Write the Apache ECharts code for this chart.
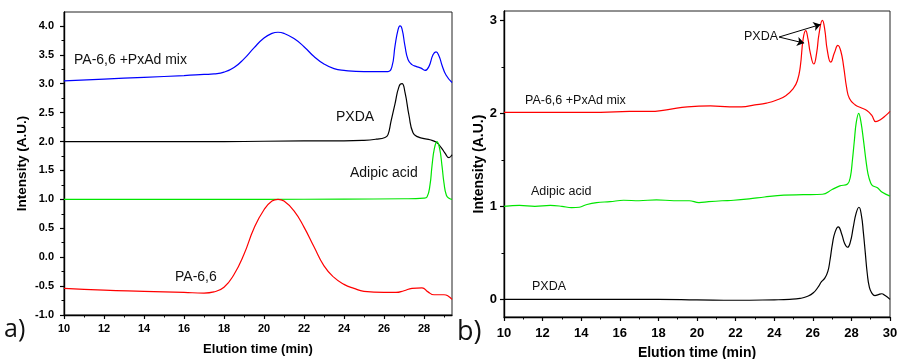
<!DOCTYPE html>
<html>
<head>
<meta charset="utf-8">
<script src="https://cdn.jsdelivr.net/npm/echarts@6/dist/echarts.min.js"></script>
<style>
html,body{margin:0;padding:0;background:#fff;}
#chart{width:898px;height:359px;}
</style>
</head>
<body>
<div id="chart"></div>
<script>
// ---- Panel a) data : [elution time (min), intensity (A.U.)] ----
const mixA = [[10,3.05],[12,3.08],[14,3.11],[16,3.14],[17,3.16],[17.5,3.17],[18,3.2],[18.5,3.28],[19,3.43],[19.5,3.62],[20,3.79],[20.4,3.87],[20.7,3.89],[21,3.87],[21.5,3.78],[22,3.64],[22.5,3.47],[23,3.34],[23.5,3.26],[24,3.23],[25,3.21],[26.2,3.21],[26.4,3.3],[26.55,3.65],[26.7,3.93],[26.8,4.0],[26.9,3.95],[27.05,3.65],[27.2,3.42],[27.4,3.33],[27.6,3.3],[27.85,3.27],[28.05,3.23],[28.25,3.3],[28.45,3.5],[28.6,3.55],[28.75,3.48],[28.9,3.32],[29.1,3.15],[29.4,3.02]];
const pxdaA = [[10,2.0],[14,2.0],[18,2.0],[22,2.01],[24,2.01],[25,2.02],[25.6,2.04],[26.05,2.07],[26.2,2.12],[26.35,2.35],[26.55,2.65],[26.75,2.95],[26.9,3.0],[27.05,2.85],[27.25,2.45],[27.45,2.15],[27.7,2.08],[28.0,2.05],[28.3,2.03],[28.6,1.99],[28.85,1.9],[29.05,1.8],[29.25,1.72],[29.4,1.77]];
const adipA = [[10,1.0],[16,1.0],[20,1.0],[24,1.005],[27,1.01],[28.0,1.02],[28.15,1.04],[28.3,1.25],[28.4,1.58],[28.52,1.88],[28.65,2.0],[28.78,1.88],[28.9,1.58],[29.0,1.28],[29.12,1.07],[29.25,1.02],[29.4,1.0]];
const pa66A = [[10,-0.54],[12,-0.57],[14,-0.59],[16,-0.61],[17,-0.62],[17.5,-0.6],[18,-0.52],[18.5,-0.3],[19,0.05],[19.5,0.5],[20,0.82],[20.4,0.97],[20.7,1.0],[21,0.97],[21.5,0.8],[22,0.52],[22.5,0.18],[23,-0.15],[23.5,-0.35],[24,-0.47],[24.5,-0.54],[25,-0.59],[26,-0.61],[26.6,-0.61],[27,-0.58],[27.4,-0.54],[27.9,-0.53],[28.2,-0.6],[28.5,-0.65],[29.0,-0.65],[29.2,-0.67],[29.4,-0.73]];

// ---- Panel b) data ----
const mixB = [[10,2.01],[13,2.01],[15,2.01],[16.5,2.02],[17.5,2.02],[18.5,2.04],[19.5,2.07],[20.7,2.08],[21.7,2.07],[22.3,2.07],[23,2.09],[23.6,2.11],[24.1,2.14],[24.6,2.19],[25.0,2.27],[25.2,2.35],[25.35,2.5],[25.5,2.8],[25.63,2.89],[25.75,2.8],[25.87,2.65],[26.05,2.53],[26.2,2.65],[26.32,2.85],[26.5,3.0],[26.62,2.9],[26.75,2.68],[26.93,2.55],[27.12,2.65],[27.3,2.73],[27.45,2.67],[27.6,2.5],[27.75,2.28],[27.9,2.16],[28.2,2.09],[28.5,2.06],[28.8,2.03],[29.05,1.98],[29.27,1.91],[29.5,1.93],[29.8,1.98],[30,2.02]];
const adipB = [[10,1.0],[10.8,1.01],[11.6,1.0],[12.4,1.01],[13.0,1.0],[13.5,0.985],[13.9,0.99],[14.3,1.02],[14.8,1.04],[15.5,1.05],[16.2,1.065],[17.0,1.06],[17.9,1.07],[18.8,1.06],[19.6,1.06],[20.1,1.04],[20.6,1.05],[21.3,1.06],[21.9,1.065],[22.7,1.08],[23.5,1.1],[24.5,1.12],[25.5,1.125],[26.5,1.13],[27.0,1.18],[27.4,1.22],[27.8,1.24],[27.95,1.32],[28.05,1.49],[28.15,1.7],[28.25,1.9],[28.38,2.0],[28.5,1.9],[28.62,1.72],[28.75,1.5],[28.86,1.35],[29.0,1.25],[29.1,1.22],[29.35,1.2],[29.6,1.15],[30,1.11]];
const pxdaB = [[10,0.0],[14,0.0],[18,0.0],[20,-0.005],[22,-0.01],[24,-0.005],[24.8,0.0],[25.34,0.01],[25.7,0.03],[26.03,0.07],[26.3,0.14],[26.45,0.19],[26.63,0.23],[26.78,0.3],[26.89,0.42],[27.02,0.6],[27.15,0.72],[27.32,0.78],[27.5,0.7],[27.65,0.6],[27.8,0.56],[27.95,0.62],[28.1,0.78],[28.25,0.93],[28.39,0.99],[28.52,0.9],[28.62,0.72],[28.72,0.5],[28.82,0.28],[28.93,0.13],[29.05,0.07],[29.22,0.04],[29.4,0.05],[29.57,0.06],[29.75,0.04],[30,0.0]];

// ---- tick labels ----
const xTicksA = [10,12,14,16,18,20,22,24,26,28];
const xMinorA = [11,13,15,17,19,21,23,25,27,29];
const yTicksA = [-1.0,-0.5,0.0,0.5,1.0,1.5,2.0,2.5,3.0,3.5,4.0];
const yMinorA = [-0.75,-0.25,0.25,0.75,1.25,1.75,2.25,2.75,3.25,3.75];
const xTicksB = [10,12,14,16,18,20,22,24,26,28,30];
const xMinorB = [11,13,15,17,19,21,23,25,27,29];
const yTicksB = [0,1,2,3];
const yMinorB = [0.5,1.5,2.5];

// arrows from the "PXDA" label to the two peaks in panel b
const arrowFrom = [24.25, 2.82];
const arrowTo = [[26.4, 2.955], [25.55, 2.755]];

const FONT = '"Liberation Sans", Arial, sans-serif';
const chart = echarts.init(document.getElementById('chart'), null, {renderer:'canvas'});

function mainX(grid, min, max, ticks, fs, margin, gap, nfs){
  return {type:'value', gridIndex:grid, position:'bottom', min:min, max:max,
    axisLine:{show:true, onZero:false, lineStyle:{color:'#000', width:1.4}},
    axisTick:{show:true, length:4, customValues:ticks, lineStyle:{color:'#000', width:1.2}},
    axisLabel:{fontSize:fs, fontWeight:'bold', color:'#000', fontFamily:FONT, margin:margin, customValues:ticks},
    splitLine:{show:false},
    name:'Elution time (min)', nameLocation:'middle', nameGap:gap,
    nameTextStyle:{fontSize:nfs, fontWeight:'bold', color:'#000', fontFamily:FONT}};
}
function minorAxis(grid, pos, min, max, ticks){
  return {type:'value', gridIndex:grid, position:pos, min:min, max:max,
    axisLine:{show:false, onZero:false}, axisLabel:{show:false}, splitLine:{show:false},
    axisTick:{show:true, length:2.5, customValues:ticks, lineStyle:{color:'#000', width:1}}};
}

const option = {
  animation:false,
  backgroundColor:'#fff',
  grid:[
    {left:64, top:12, width:388, height:303, containLabel:false, outerBoundsMode:'none', show:true, borderColor:'#222', borderWidth:1, backgroundColor:'transparent'},
    {left:504, top:11, width:386, height:306, containLabel:false, outerBoundsMode:'none', show:true, borderColor:'#222', borderWidth:1, backgroundColor:'transparent'}
  ],
  xAxis:[
    mainX(0, 10, 29.4, xTicksA, 11, 8, 28, 13),
    minorAxis(0, 'bottom', 10, 29.4, xMinorA),
    mainX(1, 10, 30, xTicksB, 13, 10, 29, 14),
    minorAxis(1, 'bottom', 10, 30, xMinorB)
  ],
  yAxis:[
    {type:'value', gridIndex:0, position:'left', min:-1, max:4.24,
      axisLine:{show:true, onZero:false, lineStyle:{color:'#000', width:1.4}},
      axisTick:{show:true, length:4, customValues:yTicksA, lineStyle:{color:'#000', width:1.2}},
      axisLabel:{fontSize:11, fontWeight:'bold', color:'#000', fontFamily:FONT, margin:10, customValues:yTicksA,
        formatter:function(v){return Number(v).toFixed(1);}},
      splitLine:{show:false},
      name:'Intensity (A.U.)', nameLocation:'middle', nameGap:35,
      nameTextStyle:{fontSize:13.5, fontWeight:'bold', color:'#000', fontFamily:FONT}},
    minorAxis(0, 'left', -1, 4.24, yMinorA),
    {type:'value', gridIndex:1, position:'left', min:-0.19, max:3.1,
      axisLine:{show:true, onZero:false, lineStyle:{color:'#000', width:1.4}},
      axisTick:{show:true, length:4, customValues:yTicksB, lineStyle:{color:'#000', width:1.2}},
      axisLabel:{fontSize:13, fontWeight:'bold', color:'#000', fontFamily:FONT, margin:7, customValues:yTicksB},
      splitLine:{show:false},
      name:'Intensity (A.U.)', nameLocation:'middle', nameGap:18,
      nameTextStyle:{fontSize:14, fontWeight:'bold', color:'#000', fontFamily:FONT}},
    minorAxis(1, 'left', -0.19, 3.1, yMinorB)
  ],
  series:[
    {type:'line', name:'PA-6,6 +PxAd mix', xAxisIndex:0, yAxisIndex:0, data:mixA, showSymbol:false, symbol:'none', smooth:0.5, lineStyle:{color:'#0000ff', width:1.2}},
    {type:'line', name:'PXDA', xAxisIndex:0, yAxisIndex:0, data:pxdaA, showSymbol:false, symbol:'none', smooth:0.5, lineStyle:{color:'#000000', width:1.2}},
    {type:'line', name:'Adipic acid', xAxisIndex:0, yAxisIndex:0, data:adipA, showSymbol:false, symbol:'none', smooth:0.5, lineStyle:{color:'#00e600', width:1.2}},
    {type:'line', name:'PA-6,6', xAxisIndex:0, yAxisIndex:0, data:pa66A, showSymbol:false, symbol:'none', smooth:0.5, lineStyle:{color:'#ff0000', width:1.2}},
    {type:'line', name:'PA-6,6 +PxAd mix b', xAxisIndex:2, yAxisIndex:2, data:mixB, showSymbol:false, symbol:'none', smooth:0.5, lineStyle:{color:'#ff0000', width:1.2},
      markLine:{silent:true, symbol:['none','arrow'], symbolSize:7, label:{show:false},
        lineStyle:{color:'#000', width:1, type:'solid'},
        data:[[{coord:arrowFrom},{coord:arrowTo[0]}],[{coord:arrowFrom},{coord:arrowTo[1]}]]}},
    {type:'line', name:'Adipic acid b', xAxisIndex:2, yAxisIndex:2, data:adipB, showSymbol:false, symbol:'none', smooth:0.4, lineStyle:{color:'#00e600', width:1.2}},
    {type:'line', name:'PXDA b', xAxisIndex:2, yAxisIndex:2, data:pxdaB, showSymbol:false, symbol:'none', smooth:0.5, lineStyle:{color:'#000000', width:1.2}}
  ],
  graphic:[
    {type:'text', style:{text:'PA-6,6 +PxAd mix', x:74, y:60, fontSize:14, fontFamily:FONT, fill:'#111', verticalAlign:'middle', align:'left'}},
    {type:'text', style:{text:'PXDA', x:336, y:117, fontSize:14, fontFamily:FONT, fill:'#111', verticalAlign:'middle', align:'left'}},
    {type:'text', style:{text:'Adipic acid', x:350, y:173, fontSize:14, fontFamily:FONT, fill:'#111', verticalAlign:'middle', align:'left'}},
    {type:'text', style:{text:'PA-6,6', x:175, y:277, fontSize:14, fontFamily:FONT, fill:'#111', verticalAlign:'middle', align:'left'}},
    {type:'text', style:{text:'PA-6,6 +PxAd mix', x:525, y:101, fontSize:12.5, fontFamily:FONT, fill:'#111', verticalAlign:'middle', align:'left'}},
    {type:'text', style:{text:'PXDA', x:744, y:37, fontSize:12.5, fontFamily:FONT, fill:'#111', verticalAlign:'middle', align:'left'}},
    {type:'text', style:{text:'Adipic acid', x:531, y:192, fontSize:12.5, fontFamily:FONT, fill:'#111', verticalAlign:'middle', align:'left'}},
    {type:'text', style:{text:'PXDA', x:532, y:287, fontSize:12.5, fontFamily:FONT, fill:'#111', verticalAlign:'middle', align:'left'}},
    {type:'text', style:{text:'a)', x:4, y:330, fontSize:25, fontFamily:'"Open Sans", sans-serif', fill:'#111', verticalAlign:'middle', align:'left'}},
    {type:'text', style:{text:'b)', x:457, y:332, fontSize:27, fontFamily:'"Open Sans", sans-serif', fill:'#111', verticalAlign:'middle', align:'left'}}
  ]
};
chart.setOption(option);
</script>
</body>
</html>
